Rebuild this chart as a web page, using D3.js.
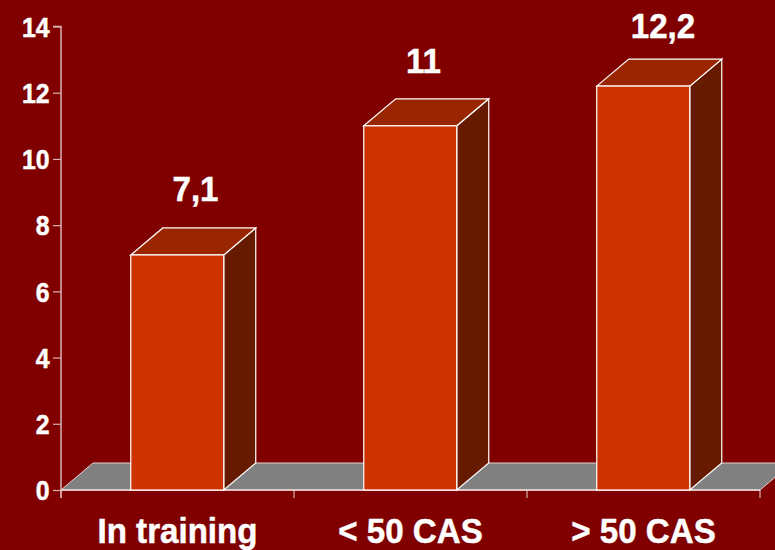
<!DOCTYPE html>
<html><head><meta charset="utf-8">
<script src="https://cdn.jsdelivr.net/npm/d3@7"></script>
<style>html,body{margin:0;padding:0;background:#800000;overflow:hidden}svg{display:block}text{font-family:"Liberation Sans",Arial,sans-serif;font-weight:bold;fill:#fff;stroke:#fff;stroke-width:.5px}</style>
</head><body><svg id="c" width="775" height="550"></svg>
<script>
const categories = ["In training", "< 50 CAS", "> 50 CAS"];
const values = [7.1, 11, 12.2];
const valueLabels = ["7,1", "11", "12,2"];
const yTicks = [0, 2, 4, 6, 8, 10, 12, 14];

const svg = d3.select("#c");
svg.append("rect").attr("width", 775).attr("height", 550).attr("fill", "#800000");
const x = d3.scaleBand().domain(categories).range([61, 760]).paddingInner(0).paddingOuter(0);
const y = d3.scaleLinear().domain([0, 14]).range([490, 26.5]);
const dx = 32, dy = 27, barW = 93, narrow = 0.92;
const labelShift = [[18, 54], [13, 53], [19.5, 48.5]];
const poly = pts => pts.map(p => p.join(",")).join(" ");
const white = "#fff", axisC = "#d9b3b3";

// floor
const [fx0, fx1] = x.range();
svg.append("polygon")
  .attr("points", poly([[fx0, y(0)], [fx0 + dx, y(0) - dy], [fx1 + dx, y(0) - dy], [fx1, y(0)]]))
  .attr("fill", "#808080").attr("stroke", "#e6d0d0").attr("stroke-width", 1);

// y axis
const yAxis = d3.axisLeft(y).tickValues(yTicks).tickSize(8).tickPadding(2).tickFormat(d3.format("d"));
const gy = svg.append("g").attr("transform", `translate(${fx0},0)`).call(yAxis);
gy.select(".domain").attr("stroke", axisC).attr("stroke-width", 1.5).attr("d", `M-8,${y(14)}H0V${y(0) + 8}`);
gy.selectAll(".tick line").attr("stroke", axisC).attr("stroke-width", 1.2);
gy.selectAll(".tick text").attr("font-size", 27).attr("font-family", "Liberation Sans").attr("font-weight", "bold").attr("fill", white)
  .attr("x", -11.5 / narrow).attr("dy", "0.36em").attr("transform", `scale(${narrow},1)`);

// x axis
const xEdges = [fx0].concat(categories.map(c => x(c) + x.bandwidth()));
svg.append("g").selectAll("line").data(xEdges).join("line")
  .attr("x1", d => d).attr("x2", d => d).attr("y1", y(0)).attr("y2", y(0) + 8)
  .attr("stroke", axisC).attr("stroke-width", 1.2);
svg.append("line").attr("x1", fx0).attr("x2", fx1).attr("y1", y(0)).attr("y2", y(0))
  .attr("stroke", "#ecdcdc").attr("stroke-width", 1.5);

// bars
const bars = svg.append("g").selectAll("g").data(categories.map((c, i) => ({c, v: values[i], l: valueLabels[i], i}))).join("g");
const bx = d => x(d.c) + (x.bandwidth() - barW) / 2 - 0.25;
bars.append("polygon").attr("fill", "#661a00").attr("stroke", white).attr("stroke-width", 1.2)
  .attr("points", d => poly([[bx(d) + barW, y(d.v)], [bx(d) + barW + dx, y(d.v) - dy], [bx(d) + barW + dx, y(0) - dy], [bx(d) + barW, y(0)]]));
bars.append("polygon").attr("fill", "#992600").attr("stroke", white).attr("stroke-width", 1.2)
  .attr("points", d => poly([[bx(d), y(d.v)], [bx(d) + dx, y(d.v) - dy], [bx(d) + barW + dx, y(d.v) - dy], [bx(d) + barW, y(d.v)]]));
bars.append("rect").attr("fill", "#cc3300").attr("stroke", white).attr("stroke-width", 1.2)
  .attr("x", bx).attr("y", d => y(d.v)).attr("width", barW).attr("height", d => y(0) - y(d.v));
bars.append("text").attr("text-anchor", "middle").attr("font-size", 36)
  .attr("transform", d => `translate(${x(d.c) + x.bandwidth() / 2 + labelShift[d.i][0]},${y(d.v) - labelShift[d.i][1]}) scale(${narrow},1)`)
  .text(d => d.l);

// category labels
svg.append("g").selectAll("text").data(categories).join("text")
  .attr("text-anchor", "middle").attr("font-size", 36)
  .attr("transform", d => `translate(${x(d) + x.bandwidth() / 2},542.5) scale(${narrow},1)`).text(d => d);
</script></body></html>
